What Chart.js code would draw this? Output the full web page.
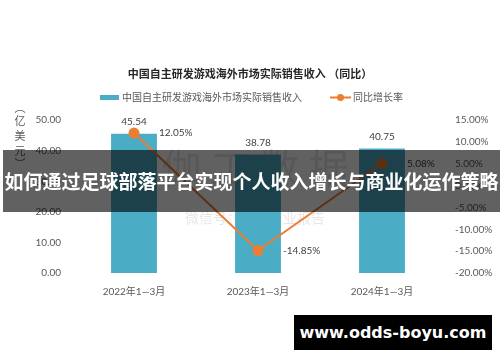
<!DOCTYPE html>
<html lang="zh-CN">

<head>
  <meta charset="UTF-8">
  <title>中国自主研发游戏海外市场实际销售收入（同比）</title>
  <script src="https://cdn.jsdelivr.net/npm/chart.js"></script>
  <style>
    body { margin: 0; background: #fff; }
    #wrap { position: relative; width: 500px; height: 362px; overflow: hidden; }
    #banner {
      position: absolute; left: 3px; top: 150px; width: 497px; height: 62px;
      background: rgba(0, 0, 0, 0.62); color: #fff;
      font: bold 19px "Noto Sans CJK SC", sans-serif;
      line-height: 62px; text-align: center; white-space: nowrap;
    }
    #site {
      position: absolute; left: 294px; top: 315px; width: 198px; height: 35px;
      background: #000; color: #fff;
      font: bold 16px "DejaVu Sans", sans-serif;
      line-height: 35px; text-align: center;
    }
  </style>
</head>

<body>
  <div id="wrap">
    <canvas id="salesChart" width="500" height="362"></canvas>
    <div id="banner">如何通过足球部落平台实现个人收入增长与商业化运作策略</div>
    <div id="site">www.odds-boyu.com</div>
  </div>
  <script>
    var periods = ['2022年1—3月', '2023年1—3月', '2024年1—3月'];
    var revenue = [45.54, 38.78, 40.75];
    var growth = [12.05, -14.85, 5.08];
    var revenueTicks = [0, 10, 20, 30, 40, 50];
    var growthTicks = [-20, -15, -10, -5, 0, 5, 10, 15];

    var BLUE = '#4BACC6';
    var ORANGE = '#ED7D31';
    var GRAY = '#595959';
    var CJK = '"Noto Sans CJK SC", sans-serif';
    var NUM = 'Lato, "Noto Sans CJK SC", sans-serif';

    // watermark, y-axis caption, legend and value labels
    var extras = {
      id: 'extras',
      beforeDatasetsDraw: function (chart) {
        var ctx = chart.ctx;
        ctx.save();
        ctx.fillStyle = 'rgba(0,0,0,0.10)';
        ctx.font = '40px ' + CJK;
        ctx.textAlign = 'center';
        ctx.textBaseline = 'middle';
        ctx.fillText('伽 工 数 据', 255, 168);
        ctx.font = '14px ' + CJK;
        ctx.fillText('微信号：伽工产业报告', 255, 218);
        ctx.restore();
      },
      afterDraw: function (chart) {
        var ctx = chart.ctx;
        ctx.save();
        ctx.textBaseline = 'middle';

        // vertical axis caption
        ctx.fillStyle = GRAY;
        ctx.font = '11px ' + CJK;
        ctx.textAlign = 'center';
        var cap = ['︵', '亿', '美', '元', '︶'];
        var capY = [108, 121, 136, 151, 164];
        cap.forEach(function (c, i) { ctx.fillText(c, 20, capY[i]); });

        // legend
        var ds = chart.data.datasets;
        ctx.font = '10px ' + CJK;
        ctx.textAlign = 'left';
        ctx.fillStyle = BLUE;
        ctx.fillRect(100, 95, 19, 5);
        ctx.fillStyle = GRAY;
        ctx.fillText(ds[0].label, 122, 97.5);
        ctx.strokeStyle = ORANGE;
        ctx.lineWidth = 2;
        ctx.beginPath();
        ctx.moveTo(330, 97.5);
        ctx.lineTo(351, 97.5);
        ctx.stroke();
        ctx.fillStyle = ORANGE;
        ctx.beginPath();
        ctx.arc(340.5, 97.5, 3.5, 0, Math.PI * 2);
        ctx.fill();
        ctx.fillStyle = GRAY;
        ctx.fillText(ds[1].label, 353, 97.5);

        // value labels
        ctx.font = '10px ' + NUM;
        ctx.fillStyle = '#404040';
        ctx.textAlign = 'center';
        chart.getDatasetMeta(0).data.forEach(function (bar, i) {
          ctx.fillText(revenue[i].toFixed(2), bar.x, bar.y - 12);
        });
        ctx.textAlign = 'left';
        chart.getDatasetMeta(1).data.forEach(function (pt, i) {
          ctx.fillText(growth[i].toFixed(2) + '%', pt.x + 25, pt.y);
        });
        ctx.restore();
      }
    };

    new Chart(document.getElementById('salesChart'), {
      data: {
        labels: periods,
        datasets: [{
          type: 'bar',
          label: '中国自主研发游戏海外市场实际销售收入',
          data: revenue,
          yAxisID: 'y',
          backgroundColor: BLUE,
          barPercentage: 0.37,
          categoryPercentage: 1,
          order: 2
        }, {
          type: 'line',
          label: '同比增长率',
          data: growth,
          yAxisID: 'y1',
          borderColor: ORANGE,
          backgroundColor: ORANGE,
          borderWidth: 2,
          pointRadius: 4.5,
          pointHoverRadius: 4.5,
          tension: 0,
          order: 1
        }]
      },
      options: {
        responsive: false,
        animation: false,
        devicePixelRatio: 1,
        layout: { padding: 0 },
        plugins: {
          legend: { display: false },
          tooltip: { enabled: false },
          title: {
            display: true,
            text: '中国自主研发游戏海外市场实际销售收入 （同比）',
            color: '#262626',
            font: { family: CJK, size: 11, weight: 'bold' },
            padding: { top: 67, bottom: 40 }
          }
        },
        scales: {
          x: {
            grid: { display: false, drawTicks: false },
            border: { display: false },
            ticks: { color: GRAY, font: { family: NUM, size: 10 }, padding: 13 },
            afterFit: function (s) { s.height = 89; }
          },
          y: {
            position: 'left',
            min: 0,
            max: 50,
            afterBuildTicks: function (s) { s.ticks = revenueTicks.map(function (v) { return { value: v }; }); },
            grid: { display: false, drawTicks: false },
            border: { display: false },
            ticks: {
              color: GRAY, font: { family: NUM, size: 10 }, padding: 11,
              callback: function (v) { return v.toFixed(2); }
            },
            afterFit: function (s) { s.width = 72; }
          },
          y1: {
            position: 'right',
            min: -20,
            max: 15,
            afterBuildTicks: function (s) { s.ticks = growthTicks.map(function (v) { return { value: v }; }); },
            grid: { display: false, drawTicks: false },
            border: { display: false },
            ticks: {
              color: GRAY, font: { family: NUM, size: 10 }, padding: 11,
              callback: function (v) { return v.toFixed(2) + '%'; }
            },
            afterFit: function (s) { s.width = 56; }
          }
        }
      },
      plugins: [extras]
    });
  </script>
</body>

</html>
